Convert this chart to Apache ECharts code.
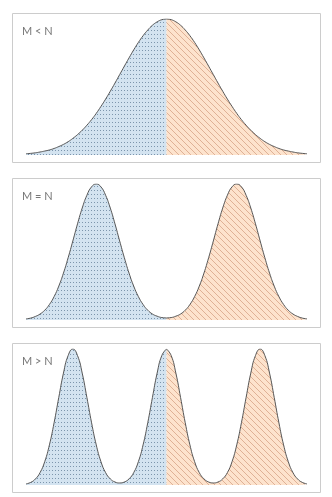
<!DOCTYPE html>
<html>
<head>
<meta charset="utf-8">
<script src="https://cdn.jsdelivr.net/npm/echarts@6/dist/echarts.min.js"></script>
<style>
html, body { margin: 0; padding: 0; background: #fff; }
#chart { width: 332px; height: 497px; }
</style>
</head>
<body>
<div id="chart"></div>
<script>
// x positions along each curve (0 = left foot, 12 = right foot)
const xPos = [0,0.2,0.4,0.6,0.8,1,1.2,1.4,1.6,1.8,2,2.2,2.4,2.6,2.8,3,3.2,3.4,3.6,3.8,
  4,4.2,4.4,4.6,4.8,5,5.2,5.4,5.6,5.8,6,6.2,6.4,6.6,6.8,7,7.2,7.4,7.6,7.8,
  8,8.2,8.4,8.6,8.8,9,9.2,9.4,9.6,9.8,10,10.2,10.4,10.6,10.8,11,11.2,11.4,11.6,11.8,12];

// curve heights (100 = peak)
const lessCurve = [0.9,1.2,1.6,2.2,2.9,3.7,4.8,6.2,7.8,9.8,12.2,15.0,18.2,21.9,26.0,30.6,35.7,41.1,46.9,52.9,
  59.1,65.3,71.4,77.3,82.8,87.7,91.9,95.4,97.9,99.5,100,99.5,97.9,95.4,91.9,87.7,82.8,77.3,71.4,65.3,
  59.1,52.9,46.9,41.1,35.7,30.6,26.0,21.9,18.2,15.0,12.2,9.8,7.8,6.2,4.8,3.7,2.9,2.2,1.6,1.2,0.9];

const equalCurve = [0.8,1.4,2.6,4.4,7.2,11.4,17.2,24.9,34.5,45.8,58.1,70.7,82.3,91.7,97.9,100,97.9,91.7,82.3,70.7,
  58.1,45.8,34.5,24.9,17.2,11.4,7.2,4.4,2.8,1.8,1.5,1.8,2.8,4.4,7.2,11.4,17.2,24.9,34.5,45.8,
  58.1,70.7,82.3,91.7,97.9,100,97.9,91.7,82.3,70.7,58.1,45.8,34.5,24.9,17.2,11.4,7.2,4.4,2.6,1.4,0.8];

const greaterCurve = [0.8,1.9,4.4,9.1,17.2,29.5,45.8,64.4,82.3,95.2,100,95.2,82.3,64.4,45.8,29.5,17.2,9.1,4.5,2.2,
  1.5,2.2,4.5,9.1,17.2,29.5,45.8,64.4,82.3,95.2,100,95.2,82.3,64.4,45.8,29.5,17.2,9.1,4.5,2.2,
  1.5,2.2,4.5,9.1,17.2,29.5,45.8,64.4,82.3,95.2,100,95.2,82.3,64.4,45.8,29.5,17.2,9.1,4.4,1.9,0.8];

const labels = ['M < N', 'M = N', 'M > N'];
const splitAt = 6;

const curves = [lessCurve, equalCurve, greaterCurve];
const panelTops = [13, 178, 343];

// blue dotted fill
function dotPattern() {
  const c = document.createElement('canvas');
  c.width = 3; c.height = 4;
  const g = c.getContext('2d');
  g.fillStyle = '#d3e3f0';
  g.fillRect(0, 0, 3, 4);
  g.fillStyle = '#7c95ac';
  g.fillRect(1, 2, 1, 1);
  return c;
}

// orange hatched fill
function hatchPattern() {
  const c = document.createElement('canvas');
  c.width = 6; c.height = 6;
  const g = c.getContext('2d');
  g.fillStyle = '#fde3cd';
  g.fillRect(0, 0, 6, 6);
  g.fillStyle = '#dfb196';
  for (let i = 0; i < 6; i++) g.fillRect(i, i, 1, 1);
  return c;
}

const dots = dotPattern();
const hatch = hatchPattern();

function makeSeries(data, pattern, k) {
  return {
    type: 'line',
    xAxisIndex: k,
    yAxisIndex: k,
    data: data,
    smooth: true,
    showSymbol: false,
    silent: true,
    lineStyle: { color: '#555', width: 1 },
    areaStyle: { color: { image: pattern, repeat: 'repeat' }, opacity: 1 }
  };
}

const grid = [], xAxis = [], yAxis = [], series = [], title = [], graphic = [];

curves.forEach((vals, k) => {
  const top = panelTops[k];
  graphic.push({
    type: 'rect',
    silent: true,
    shape: { x: 12.5, y: top + 0.5, width: 308, height: 149 },
    style: { fill: 'none', stroke: '#cccccc', lineWidth: 1 }
  });
  grid.push({ left: 26, width: 281, top: top + 6, height: 136 });
  xAxis.push({ type: 'value', gridIndex: k, min: 0, max: 12, show: false });
  yAxis.push({ type: 'value', gridIndex: k, min: 0, max: 100, show: false });
  title.push({
    text: labels[k],
    left: 22,
    top: top + 13,
    padding: 0,
    textStyle: { fontSize: 11, fontWeight: 'normal', color: '#777', fontFamily: 'Lato' }
  });
  const pts = xPos.map((x, i) => [x, vals[i]]);
  series.push(makeSeries(pts.filter(p => p[0] <= splitAt), dots, k));
  series.push(makeSeries(pts.filter(p => p[0] >= splitAt), hatch, k));
});

const chart = echarts.init(document.getElementById('chart'));
chart.setOption({
  animation: false,
  backgroundColor: '#fff',
  title: title,
  grid: grid,
  xAxis: xAxis,
  yAxis: yAxis,
  graphic: graphic,
  series: series
});
</script>
</body>
</html>
